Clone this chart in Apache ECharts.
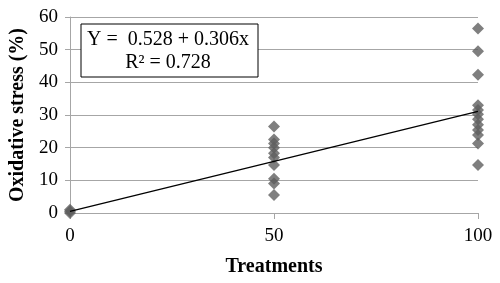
<!DOCTYPE html>
<html>
<head>
<meta charset="utf-8">
<script src="https://cdn.jsdelivr.net/npm/echarts@6/dist/echarts.min.js"></script>
<style>
  html, body { margin: 0; padding: 0; background: #fff; }
  #main { width: 500px; height: 283px; }
</style>
</head>
<body>
<div id="main"></div>
<script>
const treatment0 = [0, 0.5, 1];
const treatment50 = [26.5, 22.5, 21.3, 20, 18.3, 17, 14.7, 10.5, 9, 5.5];
const treatment100 = [56.5, 49.5, 42.3, 33, 31.5, 30.2, 28.7, 27, 25.4, 23.9, 21.3, 14.7];
const fitIntercept = 0.528;
const fitSlope = 0.306;
const xTicks = [0, 50, 100];

const chart = echarts.init(document.getElementById('main'));
const serif = '"Liberation Serif", "DejaVu Serif", serif';

const points = []
    .concat(treatment0.map(v => [0, v]))
    .concat(treatment50.map(v => [50, v]))
    .concat(treatment100.map(v => [100, v]));

const fitLine = [0, 100].map(x => [x, fitIntercept + fitSlope * x]);

chart.setOption({
    animation: false,
    grid: { left: 68, right: 22, top: 17, bottom: 70 },
    xAxis: {
        type: 'value',
        min: 0,
        max: 100,
        interval: 50,
        name: 'Treatments',
        nameLocation: 'middle',
        nameGap: 44,
        nameTextStyle: { fontFamily: serif, fontWeight: 'bold', fontSize: 20, color: '#000' },
        axisLine: { lineStyle: { color: '#a6a6a6' } },
        axisTick: { show: true, length: 6, lineStyle: { color: '#a6a6a6' } },
        axisLabel: {
            fontFamily: serif, fontSize: 19, color: '#000', margin: 14,
            formatter: v => xTicks.includes(v) ? String(v) : ''
        },
        splitLine: { show: false }
    },
    yAxis: {
        type: 'value',
        min: 0,
        max: 60,
        interval: 10,
        name: 'Oxidative stress (%)',
        nameLocation: 'middle',
        nameGap: 42,
        nameTextStyle: { fontFamily: serif, fontWeight: 'bold', fontSize: 20, color: '#000' },
        axisLine: { show: true, lineStyle: { color: '#a6a6a6' } },
        axisTick: { show: true, length: 5, lineStyle: { color: '#a6a6a6' } },
        axisLabel: { fontFamily: serif, fontSize: 19, color: '#000', margin: 12 },
        splitLine: { show: true, lineStyle: { color: '#a6a6a6' } }
    },
    series: [
        {
            type: 'scatter',
            data: points,
            symbol: 'diamond',
            symbolSize: 12,
            itemStyle: { color: '#5f5f5f' },
            z: 3
        },
        {
            type: 'line',
            data: fitLine,
            symbol: 'none',
            lineStyle: { color: '#000', width: 1.3 },
            z: 4
        }
    ],
    graphic: [
        {
            type: 'rect',
            shape: { x: 81, y: 24, width: 177, height: 53 },
            style: { fill: '#fff', stroke: '#000', lineWidth: 1 },
            z: 10
        },
        {
            type: 'text',
            x: 168, y: 40,
            style: {
                text: 'Y =  0.528 + 0.306x',
                font: '20px ' + serif,
                fill: '#000',
                align: 'center',
                verticalAlign: 'middle'
            },
            z: 11
        },
        {
            type: 'text',
            x: 168, y: 63,
            style: {
                text: 'R² = 0.728',
                font: '20px ' + serif,
                fill: '#000',
                align: 'center',
                verticalAlign: 'middle'
            },
            z: 11
        }
    ]
});

window.addEventListener('resize', () => {
    chart.resize();
});
</script>
</body>
</html>
